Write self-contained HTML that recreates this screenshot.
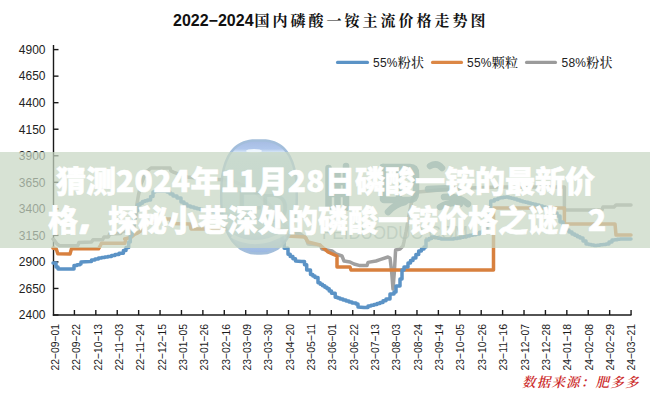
<!DOCTYPE html>
<html><head><meta charset="utf-8"><style>
html,body{margin:0;padding:0;background:#fff;}
body{width:650px;height:400px;position:relative;overflow:hidden;}
.ttl{font-size:16px;}
.tnum{font-family:"Liberation Sans",sans-serif;font-weight:bold;fill:#111;}
.tcjk{font-family:"Noto Serif CJK SC",serif;font-weight:700;fill:#111;font-size:15px;letter-spacing:3px;}
.lg{font-family:"Liberation Sans","Noto Sans CJK SC",sans-serif;font-size:12px;fill:#222;}
.lgc{font-family:"Noto Serif CJK SC",serif;font-size:13px;font-weight:500;}
.yl{font-family:"Liberation Sans",sans-serif;font-size:12px;fill:#222;text-anchor:end;}
.xl{font-family:"Liberation Sans",sans-serif;font-size:11.6px;fill:#1a1a1a;text-anchor:end;}
.src{font-family:"Liberation Serif","Noto Serif CJK SC",serif;font-size:13.5px;font-weight:600;letter-spacing:1.2px;font-style:italic;fill:#cc2a2a;}
.band{position:absolute;left:0;top:152px;width:650px;height:96px;background:rgba(199,215,196,0.72);}
.ot{position:absolute;left:0;top:152px;width:650px;font-family:"Liberation Sans","Noto Sans CJK SC",sans-serif;font-weight:900;font-size:30px;line-height:38px;color:#fff;-webkit-text-stroke:0.6px #fff;}
.ot div{white-space:nowrap;}
.dg{letter-spacing:0.35px;font-family:"Noto Sans CJK SC",sans-serif;}
.dn{font-family:"Noto Sans CJK SC",sans-serif;}
.cm{font-family:"NanumGothic","Noto Sans CJK SC",sans-serif;font-weight:800;font-size:44px;display:inline-block;width:30px;line-height:30px;vertical-align:baseline;position:relative;left:-2px;top:-3px;}
</style></head><body>
<svg width="650" height="400" viewBox="0 0 650 400" style="position:absolute;left:0;top:0"><text x="173" y="26" class="ttl"><tspan class="tnum">2022</tspan><tspan class="tnum">−</tspan><tspan class="tnum">2024</tspan><tspan class="tcjk" dx="1">国内磷酸一铵主流价格走势图</tspan></text><line x1="337.5" y1="62.4" x2="367.5" y2="62.4" stroke="#5b93c6" stroke-width="3.1" stroke-linecap="round"/><text x="373" y="66.5" class="lg" textLength="51" lengthAdjust="spacing"><tspan>55%</tspan><tspan class="lgc">粉状</tspan></text><line x1="432.5" y1="62.4" x2="461.5" y2="62.4" stroke="#dc8745" stroke-width="3.1" stroke-linecap="round"/><text x="467" y="66.5" class="lg" textLength="51" lengthAdjust="spacing"><tspan>55%</tspan><tspan class="lgc">颗粒</tspan></text><line x1="526.5" y1="62.4" x2="555.5" y2="62.4" stroke="#9b9b9b" stroke-width="3.1" stroke-linecap="round"/><text x="561.5" y="66.5" class="lg" textLength="51" lengthAdjust="spacing"><tspan>58%</tspan><tspan class="lgc">粉状</tspan></text><g stroke="#1a1a1a" stroke-width="1.4" fill="none"><line x1="53.5" y1="45" x2="53.5" y2="315.7"/><line x1="52.8" y1="315.0" x2="631.5" y2="315.0"/><line x1="53.5" y1="315.00" x2="58.5" y2="315.00"/><line x1="53.5" y1="288.46" x2="58.5" y2="288.46"/><line x1="53.5" y1="261.92" x2="58.5" y2="261.92"/><line x1="53.5" y1="235.38" x2="58.5" y2="235.38"/><line x1="53.5" y1="208.84" x2="58.5" y2="208.84"/><line x1="53.5" y1="182.30" x2="58.5" y2="182.30"/><line x1="53.5" y1="155.76" x2="58.5" y2="155.76"/><line x1="53.5" y1="129.22" x2="58.5" y2="129.22"/><line x1="53.5" y1="102.68" x2="58.5" y2="102.68"/><line x1="53.5" y1="76.14" x2="58.5" y2="76.14"/><line x1="53.5" y1="49.60" x2="58.5" y2="49.60"/><line x1="74.41" y1="310.0" x2="74.41" y2="315.0"/><line x1="95.82" y1="310.0" x2="95.82" y2="315.0"/><line x1="117.23" y1="310.0" x2="117.23" y2="315.0"/><line x1="138.64" y1="310.0" x2="138.64" y2="315.0"/><line x1="160.05" y1="310.0" x2="160.05" y2="315.0"/><line x1="181.46" y1="310.0" x2="181.46" y2="315.0"/><line x1="202.87" y1="310.0" x2="202.87" y2="315.0"/><line x1="224.28" y1="310.0" x2="224.28" y2="315.0"/><line x1="245.69" y1="310.0" x2="245.69" y2="315.0"/><line x1="267.10" y1="310.0" x2="267.10" y2="315.0"/><line x1="288.51" y1="310.0" x2="288.51" y2="315.0"/><line x1="309.92" y1="310.0" x2="309.92" y2="315.0"/><line x1="331.33" y1="310.0" x2="331.33" y2="315.0"/><line x1="352.74" y1="310.0" x2="352.74" y2="315.0"/><line x1="374.15" y1="310.0" x2="374.15" y2="315.0"/><line x1="395.56" y1="310.0" x2="395.56" y2="315.0"/><line x1="416.97" y1="310.0" x2="416.97" y2="315.0"/><line x1="438.38" y1="310.0" x2="438.38" y2="315.0"/><line x1="459.79" y1="310.0" x2="459.79" y2="315.0"/><line x1="481.20" y1="310.0" x2="481.20" y2="315.0"/><line x1="502.61" y1="310.0" x2="502.61" y2="315.0"/><line x1="524.02" y1="310.0" x2="524.02" y2="315.0"/><line x1="545.43" y1="310.0" x2="545.43" y2="315.0"/><line x1="566.84" y1="310.0" x2="566.84" y2="315.0"/><line x1="588.25" y1="310.0" x2="588.25" y2="315.0"/><line x1="609.66" y1="310.0" x2="609.66" y2="315.0"/><line x1="631.07" y1="310.0" x2="631.07" y2="315.0"/></g><text x="45.5" y="319.30" class="yl">2400</text><text x="45.5" y="292.76" class="yl">2650</text><text x="45.5" y="266.22" class="yl">2900</text><text x="45.5" y="239.68" class="yl">3150</text><text x="45.5" y="213.14" class="yl">3400</text><text x="45.5" y="186.60" class="yl">3650</text><text x="45.5" y="160.06" class="yl">3900</text><text x="45.5" y="133.52" class="yl">4150</text><text x="45.5" y="106.98" class="yl">4400</text><text x="45.5" y="80.44" class="yl">4650</text><text x="45.5" y="53.90" class="yl">4900</text><text transform="translate(58.80,324) rotate(-90)" class="xl" textLength="46.6" lengthAdjust="spacingAndGlyphs">22−09−01</text><text transform="translate(80.15,324) rotate(-90)" class="xl" textLength="46.6" lengthAdjust="spacingAndGlyphs">22−09−22</text><text transform="translate(101.50,324) rotate(-90)" class="xl" textLength="46.6" lengthAdjust="spacingAndGlyphs">22−10−13</text><text transform="translate(122.85,324) rotate(-90)" class="xl" textLength="46.6" lengthAdjust="spacingAndGlyphs">22−11−03</text><text transform="translate(144.20,324) rotate(-90)" class="xl" textLength="46.6" lengthAdjust="spacingAndGlyphs">22−11−24</text><text transform="translate(165.55,324) rotate(-90)" class="xl" textLength="46.6" lengthAdjust="spacingAndGlyphs">22−12−15</text><text transform="translate(186.90,324) rotate(-90)" class="xl" textLength="46.6" lengthAdjust="spacingAndGlyphs">23−01−05</text><text transform="translate(208.25,324) rotate(-90)" class="xl" textLength="46.6" lengthAdjust="spacingAndGlyphs">23−01−26</text><text transform="translate(229.60,324) rotate(-90)" class="xl" textLength="46.6" lengthAdjust="spacingAndGlyphs">23−02−16</text><text transform="translate(250.95,324) rotate(-90)" class="xl" textLength="46.6" lengthAdjust="spacingAndGlyphs">23−03−09</text><text transform="translate(272.30,324) rotate(-90)" class="xl" textLength="46.6" lengthAdjust="spacingAndGlyphs">23−03−30</text><text transform="translate(293.65,324) rotate(-90)" class="xl" textLength="46.6" lengthAdjust="spacingAndGlyphs">23−04−20</text><text transform="translate(315.00,324) rotate(-90)" class="xl" textLength="46.6" lengthAdjust="spacingAndGlyphs">23−05−11</text><text transform="translate(336.35,324) rotate(-90)" class="xl" textLength="46.6" lengthAdjust="spacingAndGlyphs">23−06−01</text><text transform="translate(357.70,324) rotate(-90)" class="xl" textLength="46.6" lengthAdjust="spacingAndGlyphs">23−06−22</text><text transform="translate(379.05,324) rotate(-90)" class="xl" textLength="46.6" lengthAdjust="spacingAndGlyphs">23−07−13</text><text transform="translate(400.40,324) rotate(-90)" class="xl" textLength="46.6" lengthAdjust="spacingAndGlyphs">23−08−03</text><text transform="translate(421.75,324) rotate(-90)" class="xl" textLength="46.6" lengthAdjust="spacingAndGlyphs">23−08−24</text><text transform="translate(443.10,324) rotate(-90)" class="xl" textLength="46.6" lengthAdjust="spacingAndGlyphs">23−09−14</text><text transform="translate(464.45,324) rotate(-90)" class="xl" textLength="46.6" lengthAdjust="spacingAndGlyphs">23−10−05</text><text transform="translate(485.80,324) rotate(-90)" class="xl" textLength="46.6" lengthAdjust="spacingAndGlyphs">23−10−26</text><text transform="translate(507.15,324) rotate(-90)" class="xl" textLength="46.6" lengthAdjust="spacingAndGlyphs">23−11−16</text><text transform="translate(528.50,324) rotate(-90)" class="xl" textLength="46.6" lengthAdjust="spacingAndGlyphs">23−12−07</text><text transform="translate(549.85,324) rotate(-90)" class="xl" textLength="46.6" lengthAdjust="spacingAndGlyphs">23−12−28</text><text transform="translate(571.20,324) rotate(-90)" class="xl" textLength="46.6" lengthAdjust="spacingAndGlyphs">24−01−18</text><text transform="translate(592.55,324) rotate(-90)" class="xl" textLength="46.6" lengthAdjust="spacingAndGlyphs">24−02−08</text><text transform="translate(613.90,324) rotate(-90)" class="xl" textLength="46.6" lengthAdjust="spacingAndGlyphs">24−02−29</text><text transform="translate(635.25,324) rotate(-90)" class="xl" textLength="46.6" lengthAdjust="spacingAndGlyphs">24−03−21</text><polyline points="53.0,239.0 54.0,239.8 57.0,244.0 59.7,245.7 77.7,245.7 79.0,242.5 91.5,242.0 93.0,239.8 102.6,239.8 104.0,237.0 108.5,237.0 109.6,234.0 120.6,233.5 122.0,231.5 131.0,231.0 132.8,232.4 136.0,216.0 136.8,204.8 138.5,195.0 141.0,184.0 146.0,172.0 151.0,168.0 170.0,168.0 171.0,171.0 174.0,172.4 187.0,177.0 205.0,179.0 230.0,180.0 250.0,188.0 270.0,205.0 285.0,225.0 291.0,232.0 300.0,234.0 306.0,238.0 308.0,244.0 320.0,245.0 322.0,249.0 332.0,251.0 336.0,254.0 342.0,256.0 344.0,261.0 350.0,262.0 354.0,264.0 360.0,265.6 367.0,265.6 368.0,262.4 376.0,261.0 380.0,259.6 388.0,257.0 390.0,258.0 391.5,270.0 393.0,289.0 394.5,270.0 395.6,250.0 400.0,249.0 403.0,246.0 404.0,241.7 406.0,232.0 409.0,215.0 412.0,200.0 418.0,192.0 440.0,190.0 470.0,188.0 500.0,187.0 564.4,187.0 564.4,210.0 602.0,210.0 603.0,207.0 614.0,207.0 616.0,205.0 631.0,205.0" fill="none" stroke="#a0a0a0" stroke-width="3.5" stroke-linejoin="round" stroke-linecap="round"/><polyline points="53.0,248.0 56.3,249.0 57.8,253.8 70.0,254.0 71.5,248.8 98.5,248.8 100.5,245.3 101.5,243.2 124.8,243.2 126.0,239.0 124.6,239.0 131.0,237.3 135.0,234.0 137.6,233.0 140.0,231.6 143.0,226.0 150.0,222.0 163.0,219.0 170.0,219.0 172.0,223.5 190.0,224.0 191.0,229.0 286.0,229.0 287.0,236.0 305.0,237.0 308.0,242.0 320.0,245.0 328.0,252.0 337.0,256.0 337.0,267.0 350.0,267.0 351.0,270.0 493.5,270.0 493.5,208.0 564.4,208.0 564.4,224.0 615.0,224.0 616.0,235.0 631.0,235.0" fill="none" stroke="#d8803e" stroke-width="3.5" stroke-linejoin="round" stroke-linecap="round"/><polyline points="53.0,263.0 56.0,263.0 56.0,267.0 58.0,267.0 58.0,269.0 73.0,269.0 74.0,269.0 74.0,265.6 77.0,265.6 77.0,264.8 80.0,264.8 80.0,264.0 81.0,264.0 81.0,262.0 90.0,261.4 91.5,261.4 91.5,260.0 95.0,260.0 95.0,259.0 98.5,259.0 98.5,258.0 101.7,258.0 101.7,257.5 104.8,257.5 104.8,257.1 108.0,257.1 108.0,256.6 111.5,256.6 111.5,255.6 115.0,255.6 115.0,254.5 119.0,254.5 119.0,253.2 123.4,253.2 123.4,250.4 126.0,250.4 126.0,247.5 128.7,247.5 128.7,242.0 130.3,242.0 130.3,235.6 132.0,235.6 132.0,227.5 133.6,227.5 133.6,219.0 135.0,219.0 135.0,211.0 137.6,211.0 137.6,204.8 140.1,204.8 140.1,203.2 142.5,203.2 142.5,201.5 144.9,201.5 144.9,200.8 147.4,200.8 147.4,200.0 150.6,200.0 150.6,196.6 153.0,196.6 153.0,192.0 155.0,192.0 155.0,191.0 163.0,191.0 167.0,191.0 167.0,192.0 170.0,192.0 170.0,194.0 173.0,194.0 173.0,196.0 177.0,196.0 177.0,198.0 181.0,198.0 181.0,202.0 184.0,202.0 184.0,204.0 187.0,204.0 187.0,206.0 190.5,206.0 190.5,207.0 194.0,207.0 194.0,208.0 197.0,208.0 197.0,208.7 200.0,208.7 200.0,209.4 203.0,209.4 203.0,209.9 206.0,209.9 206.0,210.4 209.0,210.4 209.0,211.0 212.0,211.0 212.0,211.5 215.0,211.5 215.0,212.0 217.9,212.0 217.9,212.6 220.7,212.6 220.7,213.1 223.6,213.1 223.6,213.7 226.4,213.7 226.4,214.3 229.3,214.3 229.3,214.9 232.1,214.9 232.1,215.4 235.0,215.4 235.0,216.0 237.9,216.0 237.9,216.4 240.7,216.4 240.7,216.9 243.6,216.9 243.6,217.3 246.4,217.3 246.4,217.7 249.3,217.7 249.3,218.1 252.1,218.1 252.1,218.6 255.0,218.6 255.0,219.0 258.2,219.0 258.2,219.8 261.5,219.8 261.5,220.5 264.8,220.5 264.8,221.2 268.0,221.2 268.0,222.0 271.0,222.0 271.0,223.0 274.0,223.0 274.0,224.0 276.5,224.0 276.5,228.0 279.0,228.0 279.0,232.0 282.0,232.0 282.0,241.0 284.2,241.0 284.2,248.2 288.0,248.2 288.0,254.2 290.2,254.2 290.2,256.5 292.9,256.5 292.9,258.8 295.5,258.8 295.5,261.0 301.5,261.5 304.5,261.5 304.5,264.7 306.7,264.7 306.7,270.0 310.5,270.0 310.5,274.5 312.8,274.5 312.8,276.0 315.0,276.0 315.0,277.5 318.0,277.5 318.0,282.7 320.2,282.7 320.2,284.2 322.5,284.2 322.5,285.7 324.8,285.7 324.8,287.2 327.0,287.2 327.0,288.7 329.2,288.7 329.2,290.9 331.5,290.9 331.5,293.2 335.2,293.2 335.2,297.2 337.6,297.2 337.6,298.1 340.0,298.1 340.0,299.0 343.0,299.0 343.0,300.0 346.0,300.0 346.0,301.0 349.0,301.0 349.0,302.0 352.0,302.0 352.0,303.0 356.0,303.0 356.0,304.0 358.0,304.0 358.0,307.0 364.0,307.6 368.0,307.6 368.0,306.0 371.0,306.0 371.0,305.2 374.0,305.2 374.0,304.4 377.0,304.4 377.0,303.4 380.0,303.4 380.0,302.4 383.0,302.4 383.0,300.7 386.0,300.7 386.0,299.0 390.0,299.0 390.0,294.0 394.0,294.0 394.0,292.0 396.0,292.0 396.0,286.0 400.0,286.0 400.0,279.0 402.0,279.0 402.0,270.0 404.0,270.0 404.0,267.0 408.0,267.0 408.0,263.0 410.5,263.0 410.5,260.5 413.0,260.5 413.0,258.0 415.9,258.0 415.9,254.5 418.7,254.5 418.7,251.0 421.4,251.0 421.4,249.0 424.0,249.0 424.0,247.0 426.0,247.0 426.0,240.0 428.9,240.0 428.9,238.5 431.7,238.5 431.7,237.0 434.8,237.0 434.8,237.7 437.9,237.7 437.9,238.3 441.0,238.3 441.0,239.0 450.0,239.0 453.8,239.0 453.8,238.5 457.5,238.5 457.5,238.0 460.6,238.0 460.6,237.3 463.6,237.3 463.6,236.7 466.7,236.7 466.7,236.0 469.8,236.0 469.8,235.3 472.9,235.3 472.9,234.7 476.0,234.7 476.0,234.0 479.5,234.0 479.5,232.3 483.0,232.3 483.0,230.6 487.0,230.6 487.0,215.0 490.7,215.0 490.7,201.0 494.4,201.0 494.4,199.5 498.0,199.5 498.0,198.0 500.7,198.0 500.7,197.7 503.3,197.7 503.3,197.3 506.0,197.3 506.0,197.0 508.7,197.0 508.7,197.7 511.3,197.7 511.3,198.3 514.0,198.3 514.0,199.0 517.0,199.0 517.0,200.0 520.0,200.0 520.0,201.0 522.7,201.0 522.7,201.7 525.3,201.7 525.3,202.3 528.0,202.3 528.0,203.0 530.7,203.0 530.7,203.7 533.3,203.7 533.3,204.3 536.0,204.3 536.0,205.0 539.2,205.0 539.2,206.0 542.4,206.0 542.4,207.0 545.6,207.0 545.6,208.0 548.8,208.0 548.8,209.0 552.0,209.0 552.0,210.0 554.5,210.0 554.5,213.0 557.0,213.0 557.0,216.0 560.0,216.0 560.0,222.0 563.0,222.0 563.0,226.0 566.0,226.0 566.0,230.0 569.0,230.0 569.0,232.0 572.0,232.0 572.0,234.0 574.7,234.0 574.7,235.3 577.3,235.3 577.3,236.7 580.0,236.7 580.0,238.0 583.0,238.0 583.0,241.0 586.0,241.0 586.0,244.0 588.7,244.0 588.7,244.5 591.3,244.5 591.3,245.1 594.0,245.1 594.0,245.6 597.0,245.6 597.0,245.2 600.0,245.2 600.0,244.8 603.0,244.8 603.0,244.4 606.0,244.4 606.0,244.0 609.0,244.0 609.0,242.0 612.0,242.0 612.0,240.0 614.7,240.0 614.7,239.7 617.3,239.7 617.3,239.3 620.0,239.3 620.0,239.0 631.0,239.0" fill="none" stroke="#5b93c6" stroke-width="3.5" stroke-linejoin="round" stroke-linecap="round"/><defs><linearGradient id="gg" x1="0" y1="0" x2="0" y2="1">
<stop offset="0" stop-color="#9cb5e0"/><stop offset="0.075" stop-color="#a8c1ea"/><stop offset="0.105" stop-color="#d4e6f6"/>
<stop offset="0.17" stop-color="#c6dde8"/><stop offset="0.8" stop-color="#c0d8e6"/><stop offset="0.9" stop-color="#a6c2e6"/><stop offset="1" stop-color="#8eaede"/></linearGradient></defs>
<g opacity="0.9">
<path d="M296.8,197.0 L296.7,202.6 L296.5,207.2 L296.1,211.4 L295.5,215.5 L294.8,219.3 L293.9,222.9 L292.9,226.3 L291.8,229.6 L290.4,232.7 L289.0,235.5 L287.4,238.2 L285.7,240.7 L283.8,243.0 L281.8,245.1 L279.7,246.9 L277.5,248.6 L275.1,250.0 L272.6,251.2 L270.0,252.1 L267.2,252.9 L264.3,253.3 L261.0,253.6 L257.0,253.6 L253.7,253.3 L250.8,252.9 L248.0,252.1 L245.4,251.2 L242.9,250.0 L240.5,248.6 L238.3,246.9 L236.2,245.1 L234.2,243.0 L232.3,240.7 L230.6,238.2 L229.0,235.5 L227.6,232.7 L226.2,229.6 L225.1,226.3 L224.1,222.9 L223.2,219.3 L222.5,215.5 L221.9,211.4 L221.5,207.2 L221.3,202.6 L221.2,197.0 L221.3,189.7 L221.5,184.6 L221.8,180.1 L222.3,176.0 L223.0,172.2 L223.7,168.7 L224.7,165.4 L225.7,162.3 L226.9,159.4 L228.2,156.7 L229.7,154.2 L231.2,152.0 L233.0,149.9 L234.8,148.0 L236.8,146.3 L239.0,144.9 L241.2,143.6 L243.7,142.5 L246.3,141.7 L249.2,141.1 L252.3,140.6 L256.1,140.4 L261.9,140.4 L265.7,140.6 L268.8,141.1 L271.7,141.7 L274.3,142.5 L276.8,143.6 L279.0,144.9 L281.2,146.3 L283.2,148.0 L285.0,149.9 L286.8,152.0 L288.3,154.2 L289.8,156.7 L291.1,159.4 L292.3,162.3 L293.3,165.4 L294.3,168.7 L295.0,172.2 L295.7,176.0 L296.2,180.1 L296.5,184.6 L296.7,189.7 Z" fill="url(#gg)" stroke="#9ab8d8" stroke-width="2.5"/>
<ellipse cx="254" cy="151" rx="8" ry="2" fill="#f2faff" opacity="0.9"/>
<path d="M232,236 Q258,250 286,232" fill="none" stroke="#eef6f8" stroke-width="4" opacity="0.6"/>
<text x="236" y="222" font-family="'Liberation Sans', sans-serif" font-size="44" fill="#7fa4b8" opacity="0.65">F</text>
<text x="260" y="222" font-family="'Liberation Sans', sans-serif" font-size="40" fill="#7fa4b8" opacity="0.55">D</text>
</g>
<g fill="none" stroke="#6a90a4" stroke-width="6.5" stroke-linecap="round" stroke-linejoin="round" opacity="0.85">
<path d="M328.5,168 L328.5,207"/><path d="M337.5,172 L337.5,206"/><path d="M346,166 L346,208"/><path d="M329,182 L346,182"/><path d="M329,194 L346,194"/>
<path d="M383,167 L383,199"/><path d="M383,167 L410,167 Q416,167 416,174 L416,193 Q416,200 409,200 L384,200"/><path d="M399,168 L399,199"/>
<path d="M388,212 Q395,204 405,202"/>
<path d="M430,166 Q437,162 442,168"/><path d="M428,189 L452,188"/><path d="M444,197 Q458,195 468,204"/><path d="M440,207 Q450,201 460,204"/>
</g>
<text x="322" y="238.5" font-family="'Liberation Sans', sans-serif" font-size="19" textLength="146" lengthAdjust="spacingAndGlyphs" fill="#7d9598" opacity="0.6">FEIDUODUO.COM</text>
<text x="522" y="386.5" class="src">数据来源：肥多多</text></svg>
<div class="band"></div>
<div class="ot"><div style="position:absolute;left:56px;top:8px">猜测<span class="dg">2024</span>年<span class="dg">11</span>月<span class="dg">28</span>日磷酸一铵的最新价</div><div style="position:absolute;left:48px;top:46.5px">格<span class="cm">，</span>探秘小巷深处的磷酸一铵价格之谜<span class="cm">，</span><span class="dn">2</span></div></div>
</body></html>
